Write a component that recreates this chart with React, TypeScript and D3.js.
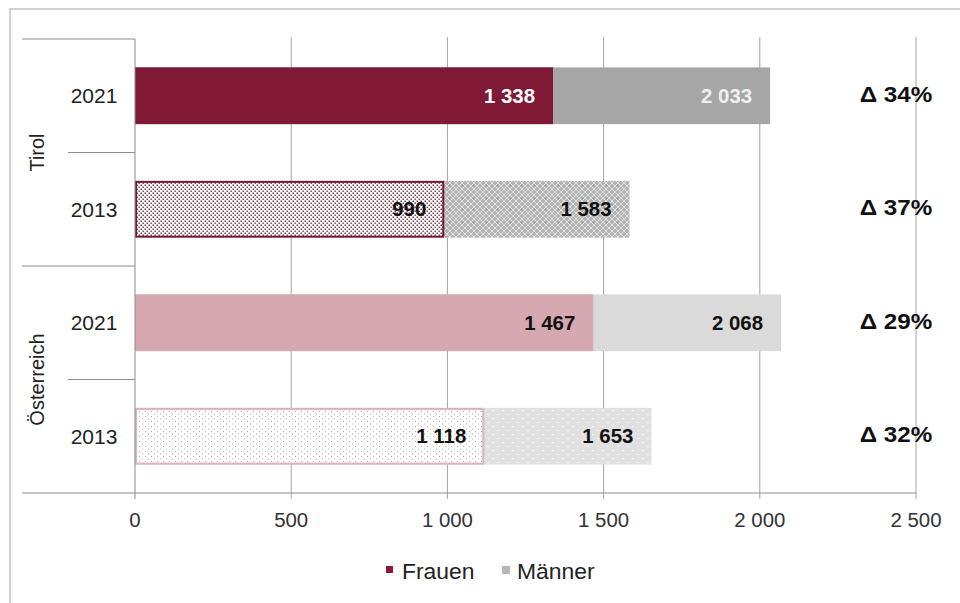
import React from "react";
import * as d3 from "d3";

const regions = ["Tirol", "Österreich"];
const years = ["2021", "2013", "2021", "2013"];
const rowRegion = [0, 0, 1, 1];
const frauen = [1338, 990, 1467, 1118];
const maenner = [2033, 1583, 2068, 1653];
const deltas = [34, 37, 29, 32];
const ticks = [0, 500, 1000, 1500, 2000, 2500];
const tickLabels = ["0", "500", "1 000", "1 500", "2 000", "2 500"];
const legendLabels = ["Frauen", "Männer"];

const fmt = (v: number) => {
  const s = String(v);
  return s.length > 3 ? s.slice(0, s.length - 3) + " " + s.slice(-3) : s;
};

const FONT = "'Liberation Sans', Arial, sans-serif";

const femaleFill = ["#7f1936", "url(#dotsMaroon)", "#d6a8b2", "url(#dotsPink)"];
const femaleStroke = ["none", "#7a1530", "none", "#dcb2bc"];
const maleFill = ["#a6a6a6", "url(#latticeGray)", "#dadada", "url(#lightGray)"];
const femaleLabel = ["#ffffff", "#111111", "#111111", "#111111"];
const maleLabel = ["#f0f0f0", "#111111", "#111111", "#111111"];

type TProps = {
  x: number;
  y: number;
  sx?: number;
  anchor?: "start" | "middle" | "end";
  size: number;
  bold?: boolean;
  fill?: string;
  rotate?: number;
  children: React.ReactNode;
};

function T({ x, y, sx = 1, anchor = "start", size, bold, fill = "#222", rotate = 0, children }: TProps) {
  return (
    <text
      transform={`translate(${x},${y}) rotate(${rotate}) scale(${sx},1)`}
      dy="0.36em"
      textAnchor={anchor}
      fontSize={size}
      fontWeight={bold ? "bold" : "normal"}
      fill={fill}
    >
      {children}
    </text>
  );
}

export default function App() {
  const W = 960;
  const H = 603;
  const x = d3.scaleLinear().domain([0, 2500]).range([135, 916]);
  const y = d3
    .scaleBand<number>()
    .domain([0, 1, 2, 3])
    .range([39, 493])
    .paddingInner(0.5)
    .paddingOuter(0.25);
  const step = y.step();
  const top = 39;
  const bottom = 493;

  return (
    <svg
      width={W}
      height={H}
      style={{ position: "absolute", left: 0, top: 0, background: "#fff" }}
      fontFamily={FONT}
    >
      <defs>
        <pattern id="dotsMaroon" width="4" height="4" patternUnits="userSpaceOnUse">
          <rect width="4" height="4" fill="#ffffff" />
          <rect x="0.5" y="0.5" width="1.4" height="1.4" fill="#4f1a28" />
          <rect x="2.5" y="2.5" width="1.4" height="1.4" fill="#6a2a3a" />
        </pattern>
        <pattern id="latticeGray" width="6" height="6" patternUnits="userSpaceOnUse">
          <rect width="6" height="6" fill="#b4b4b4" />
          <path d="M0 3 L3 0 L6 3 L3 6 Z" fill="none" stroke="#e6e6e6" strokeWidth="0.9" />
        </pattern>
        <pattern id="dotsPink" width="6" height="5" patternUnits="userSpaceOnUse">
          <rect width="6" height="5" fill="#ffffff" />
          <rect x="1" y="1" width="1" height="1" fill="#c7a3ac" />
          <rect x="4" y="3.5" width="1" height="1" fill="#bfb0b4" />
        </pattern>
        <pattern id="lightGray" width="10" height="8" patternUnits="userSpaceOnUse">
          <rect width="10" height="8" fill="#e0e0e0" />
          <rect x="2" y="2" width="2" height="1" fill="#f4f4f4" />
          <rect x="7" y="6" width="2" height="1" fill="#f4f4f4" />
        </pattern>
      </defs>

      {/* outer frame */}
      <rect x={10} y={9} width={W} height={H} fill="none" stroke="#a6a6a6" strokeWidth={1} />

      {/* gridlines */}
      {ticks.map((t, i) =>
        i === 0 ? null : (
          <line key={"g" + t} x1={x(t)} x2={x(t)} y1={37} y2={bottom + 6} stroke="#a3a3a3" strokeWidth={1} />
        )
      )}

      {/* bars */}
      {frauen.map((f, i) => {
        const y0 = y(i) as number;
        const bw = y.bandwidth();
        const hasStroke = femaleStroke[i] !== "none";
        return (
          <g key={"bar" + i}>
            <rect x={x(0)} y={y0} width={x(maenner[i]) - x(0)} height={bw} fill={maleFill[i]} />
            <rect
              x={x(0) + (hasStroke ? 1 : 0)}
              y={y0 + (hasStroke ? 1 : 0)}
              width={x(f) - x(0) - (hasStroke ? 2 : 0)}
              height={bw - (hasStroke ? 2 : 0)}
              fill={femaleFill[i]}
              stroke={femaleStroke[i]}
              strokeWidth={2}
            />
            <T x={x(f) - 18} y={y0 + bw / 2} anchor="end" size={20} bold sx={1.02} fill={femaleLabel[i]}>
              {fmt(f)}
            </T>
            <T x={x(maenner[i]) - 18} y={y0 + bw / 2} anchor="end" size={20} bold sx={1.02} fill={maleLabel[i]}>
              {fmt(maenner[i])}
            </T>
            <T x={896} y={y0 + bw / 2 - 2} anchor="middle" size={22} bold sx={1.1} fill="#111">
              {"Δ " + deltas[i] + "%"}
            </T>
          </g>
        );
      })}

      {/* axis lines */}
      <line x1={x(0)} x2={x(0)} y1={top} y2={bottom + 6} stroke="#8c8c8c" strokeWidth={1} />
      <line x1={22} x2={x(2500)} y1={bottom} y2={bottom} stroke="#8c8c8c" strokeWidth={1} />

      {/* category separators */}
      {[0, 1, 2, 3].map((k) => {
        const yy = top + k * step;
        const outer = k % 2 === 0;
        return (
          <line
            key={"sep" + k}
            x1={outer ? 22 : 68}
            x2={x(0)}
            y1={yy}
            y2={yy}
            stroke="#8c8c8c"
            strokeWidth={1}
          />
        );
      })}

      {/* year labels */}
      {years.map((yr, i) => (
        <T key={"yr" + i} x={94} y={(y(i) as number) + y.bandwidth() / 2} anchor="middle" size={21} fill="#222">
          {yr}
        </T>
      ))}

      {/* region labels */}
      {regions.map((r, k) => {
        const idx = rowRegion.map((v, i) => (v === k ? i : -1)).filter((v) => v >= 0);
        const cy = top + ((idx[0] + idx[idx.length - 1] + 1) * step) / 2;
        return (
          <T key={"reg" + r} x={37} y={cy} rotate={-90} anchor="middle" size={20} fill="#222">
            {r}
          </T>
        );
      })}

      {/* x tick labels */}
      {ticks.map((t, i) => (
        <T key={"t" + t} x={x(t)} y={520} anchor="middle" size={20} sx={1.02} fill="#333">
          {tickLabels[i]}
        </T>
      ))}

      {/* legend */}
      <g>
        <rect x={386} y={566} width={7} height={7} fill="#8b1a3a" />
        <T x={402} y={571} size={22} sx={1.04} fill="#222">
          {legendLabels[0]}
        </T>
        <rect x={502} y={566} width={8} height={8} fill="#a6a6a6" opacity={0.8} />
        <T x={517} y={571} size={22} sx={1.04} fill="#222">
          {legendLabels[1]}
        </T>
      </g>
    </svg>
  );
}
